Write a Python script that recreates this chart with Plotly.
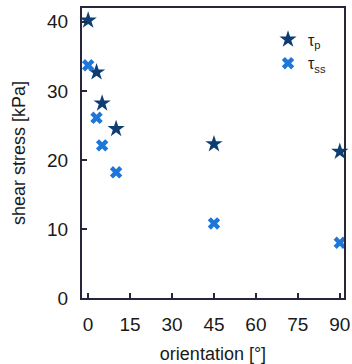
import plotly.graph_objects as go

# orientation angles [deg] and shear stresses [kPa]
orient_p = [0, 3, 5, 10, 45, 90]
tau_p = [40.2, 32.7, 28.2, 24.5, 22.3, 21.2]
orient_ss = [0, 3, 5, 10, 45, 90]
tau_ss = [33.7, 26.1, 22.1, 18.2, 10.8, 8.0]

x_ticks = [0, 15, 30, 45, 60, 75, 90]
y_ticks = [0, 10, 20, 30, 40]

font = "Liberation Sans, Arial, sans-serif"
axis_col = "#26263a"

fig = go.Figure()
fig.add_trace(go.Scatter(
    x=orient_p, y=tau_p, mode="markers", name="τ<sub>p</sub>",
    marker=dict(symbol="star", size=13, color="#0d3d72", line=dict(width=0)),
    cliponaxis=False))
fig.add_trace(go.Scatter(
    x=orient_ss, y=tau_ss, mode="markers", name="τ<sub>ss</sub>",
    marker=dict(symbol="x", size=11, color="#1e76d8", line=dict(width=0)),
    cliponaxis=False))

fig.update_layout(
    width=352, height=364,
    margin=dict(l=82, r=8, t=8, b=66),
    paper_bgcolor="white", plot_bgcolor="white",
    font=dict(family=font, size=19, color="#1a1a1a"),
    showlegend=True,
    legend=dict(x=0.71, y=0.95, xanchor="left", yanchor="top",
                bgcolor="rgba(0,0,0,0)", font=dict(size=16, color="#1a1a1a"),
                itemsizing="trace", tracegroupgap=0),
    xaxis=dict(range=[-2.2, 91.5], tickvals=x_ticks, ticks="inside",
               ticklen=5, tickwidth=2, tickcolor=axis_col,
               ticklabelstandoff=8, automargin=False,
               showline=True, linewidth=2, linecolor=axis_col, mirror=True,
               showgrid=False, zeroline=False,
               title=dict(text="orientation [°]", font=dict(size=18), standoff=14)),
    yaxis=dict(range=[0, 42], tickvals=y_ticks, ticks="inside",
               ticklen=5, tickwidth=2, tickcolor=axis_col,
               ticklabelstandoff=8, automargin=False,
               showline=True, linewidth=2, linecolor=axis_col, mirror=True,
               showgrid=False, zeroline=False,
               title=dict(text="shear stress [kPa]", font=dict(size=18), standoff=17)),
)

fig.write_html("out.html")
